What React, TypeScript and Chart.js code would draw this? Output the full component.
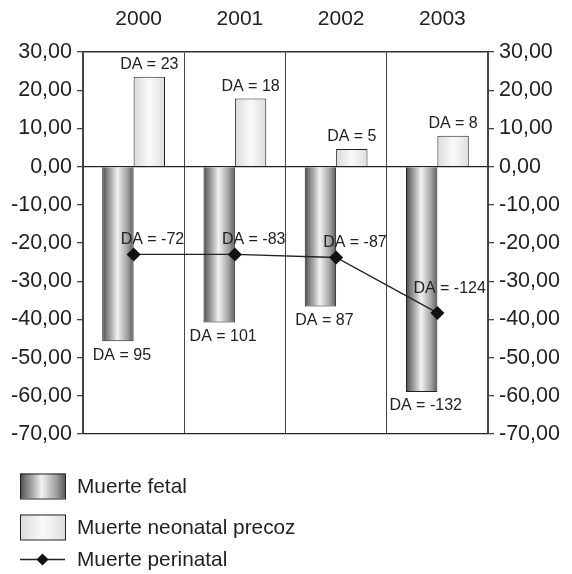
import React, { useEffect, useRef } from "react";
import { Chart, registerables } from "chart.js";

Chart.register(...registerables);

const years = ["2000", "2001", "2002", "2003"];
const fetal = [-45.7, -40.8, -36.6, -59.0];
const neonatal = [23.5, 17.8, 4.6, 8.1];
const perinatal = [-23.0, -23.0, -23.8, -38.3];
const fetalLabels = ["DA = 95", "DA = 101", "DA = 87", "DA = -132"];
const neonatalLabels = ["DA = 23", "DA = 18", "DA = 5", "DA = 8"];
const perinatalLabels = ["DA = -72", "DA = -83", "DA = -87", "DA = -124"];
const legendNames = ["Muerte fetal", "Muerte neonatal precoz", "Muerte perinatal"];

const FONT = "'Liberation Sans', Arial, Helvetica, sans-serif";
const TEXT = "#222";
const CAT_PCT = 0.62;

function fetalGradient(c: CanvasRenderingContext2D, x0: number, x1: number) {
  const g = c.createLinearGradient(x0, 0, x1, 0);
  g.addColorStop(0, "#474747");
  g.addColorStop(0.12, "#787878");
  g.addColorStop(0.3, "#b2b2b2");
  g.addColorStop(0.48, "#f2f2f2");
  g.addColorStop(0.62, "#cfcfcf");
  g.addColorStop(0.82, "#9c9c9c");
  g.addColorStop(1, "#5a5a5a");
  return g;
}
function neoGradient(c: CanvasRenderingContext2D, x0: number, x1: number) {
  const g = c.createLinearGradient(x0, 0, x1, 0);
  g.addColorStop(0, "#dadada");
  g.addColorStop(0.5, "#fafafa");
  g.addColorStop(1, "#dedede");
  return g;
}

function barSpan(chart: any, idx: number, which: number) {
  const xs = chart.scales.x;
  const cw = xs.width / years.length;
  const center = xs.getPixelForValue(idx);
  const half = (cw * CAT_PCT) / 2;
  return which === 0 ? [center - half, center] : [center, center + half];
}

const labelPlugin = {
  id: "daLabels",
  afterDatasetsDraw(chart: any) {
    const c = chart.ctx;
    c.save();
    c.fillStyle = TEXT;
    c.font = `16px ${FONT}`;
    const m0 = chart.getDatasetMeta(0);
    const m1 = chart.getDatasetMeta(1);
    const m2 = chart.getDatasetMeta(2);
    m0.data.forEach((el: any, i: number) => {
      c.textAlign = "center";
      c.textBaseline = "top";
      c.fillText(fetalLabels[i], el.x + 4, el.y + 6);
    });
    m1.data.forEach((el: any, i: number) => {
      c.textAlign = "center";
      c.textBaseline = "bottom";
      c.fillText(neonatalLabels[i], el.x, el.y - 4);
    });
    const n = m2.data.length;
    m2.data.forEach((el: any, i: number) => {
      c.textAlign = "left";
      c.textBaseline = "bottom";
      if (i === n - 1) c.fillText(perinatalLabels[i], el.x - 24, el.y - 16);
      else c.fillText(perinatalLabels[i], el.x - 13, el.y - 7);
    });
    c.restore();
  },
  afterDraw(chart: any) {
    const c = chart.ctx;
    c.save();
    const bx = 20, bw = 45, bh = 25;
    const rows = [486, 527, 559];
    c.fillStyle = fetalGradient(c, bx, bx + bw);
    c.fillRect(bx, rows[0] - bh / 2, bw, bh);
    c.strokeStyle = "#222";
    c.lineWidth = 1;
    c.strokeRect(bx + 0.5, rows[0] - bh / 2 + 0.5, bw, bh);
    c.fillStyle = neoGradient(c, bx, bx + bw);
    c.fillRect(bx, rows[1] - bh / 2, bw, bh);
    c.strokeRect(bx + 0.5, rows[1] - bh / 2 + 0.5, bw, bh);
    c.beginPath();
    c.moveTo(bx, rows[2] + 0.5);
    c.lineTo(bx + bw, rows[2] + 0.5);
    c.lineWidth = 1.5;
    c.stroke();
    const cx = bx + bw / 2, cy = rows[2] + 0.5, r = 6;
    c.beginPath();
    c.moveTo(cx, cy - r);
    c.lineTo(cx + r, cy);
    c.lineTo(cx, cy + r);
    c.lineTo(cx - r, cy);
    c.closePath();
    c.fillStyle = "#111";
    c.fill();
    c.fillStyle = TEXT;
    c.font = `20.8px ${FONT}`;
    c.textAlign = "left";
    c.textBaseline = "middle";
    legendNames.forEach((nm, i) => c.fillText(nm, 77, rows[i] + 1));
    c.restore();
  },
};

export default function App() {
  const ref = useRef<HTMLCanvasElement>(null);
  useEffect(() => {
    if (!ref.current) return;
    const tickFmt = (v: any) => Number(v).toFixed(2).replace(".", ",");
    const chart = new Chart(ref.current, {
      type: "bar",
      data: {
        labels: years,
        datasets: [
          {
            type: "bar",
            label: legendNames[0],
            data: fetal,
            backgroundColor: (ctx: any) => {
              const ch = ctx.chart;
              if (!ch.chartArea || !ch.scales.x) return "#999";
              const [a, b] = barSpan(ch, ctx.dataIndex, 0);
              return fetalGradient(ch.ctx, a, b);
            },
            borderColor: "#222",
            borderWidth: 1,
            categoryPercentage: CAT_PCT,
            barPercentage: 1,
            order: 2,
          },
          {
            type: "bar",
            label: legendNames[1],
            data: neonatal,
            backgroundColor: (ctx: any) => {
              const ch = ctx.chart;
              if (!ch.chartArea || !ch.scales.x) return "#eee";
              const [a, b] = barSpan(ch, ctx.dataIndex, 1);
              return neoGradient(ch.ctx, a, b);
            },
            borderColor: "#222",
            borderWidth: 1,
            categoryPercentage: CAT_PCT,
            barPercentage: 1,
            order: 2,
          },
          {
            type: "line",
            label: legendNames[2],
            data: perinatal,
            borderColor: "#222",
            borderWidth: 1.3,
            backgroundColor: "#111",
            pointStyle: "rectRot",
            pointRadius: 7,
            pointBorderWidth: 0,
            order: 1,
          } as any,
        ],
      },
      options: {
        responsive: true,
        maintainAspectRatio: false,
        animation: false,
        layout: { padding: { top: 0, left: 0, right: 0, bottom: 140 } },
        plugins: { legend: { display: false }, tooltip: { enabled: false } },
        scales: {
          x: {
            position: "top",
            offset: true,
            grid: { offset: true, color: "#444", lineWidth: 1, drawTicks: false },
            border: { color: "#333", width: 1.5 },
            ticks: { color: TEXT, font: { family: FONT, size: 21 }, padding: 20, labelOffset: 5 },
            afterFit: (s: any) => { s.height = 52; },
          },
          y: {
            position: "left",
            min: -70,
            max: 30,
            ticks: { stepSize: 10, color: TEXT, font: { family: FONT, size: 21.5 }, padding: 5, callback: tickFmt },
            grid: {
              color: (ctx: any) => (ctx.tick && (ctx.tick.value === 0 || ctx.tick.value === -70) ? "#222" : "rgba(0,0,0,0)"),
              tickColor: "#444",
              tickLength: 6,
              lineWidth: 1.3,
            },
            border: { color: "#444", width: 1.3 },
            afterFit: (s: any) => { s.width = 83; },
          },
          y2: {
            position: "right",
            min: -70,
            max: 30,
            ticks: { stepSize: 10, color: TEXT, font: { family: FONT, size: 21.5 }, padding: 5, callback: tickFmt },
            grid: { drawOnChartArea: false, tickColor: "#444", tickLength: 6, lineWidth: 1.3 },
            border: { color: "#444", width: 1.3 },
            afterFit: (s: any) => { s.width = 84; },
          },
        },
      },
      plugins: [labelPlugin],
    });
    return () => chart.destroy();
  }, []);
  return (
    <div style={{ position: "absolute", left: 0, top: 0, width: 572, height: 574, background: "#fff" }}>
      <canvas ref={ref} />
    </div>
  );
}
